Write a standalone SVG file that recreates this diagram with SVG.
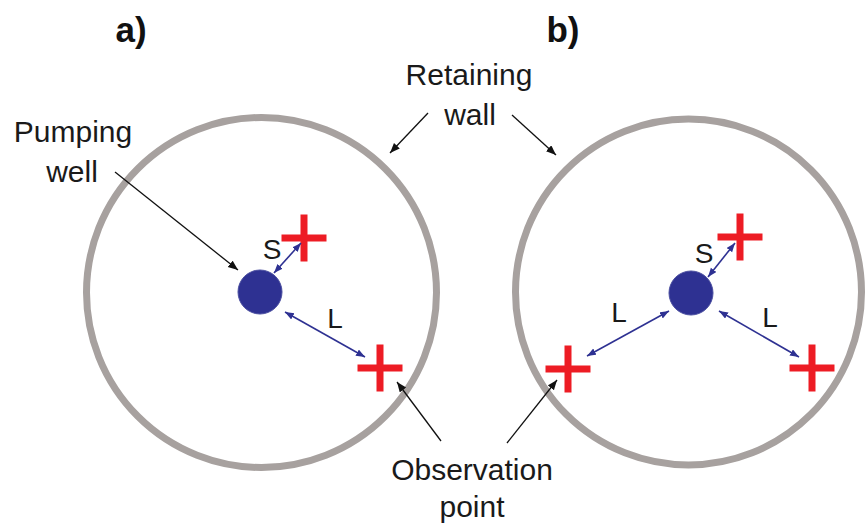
<svg xmlns="http://www.w3.org/2000/svg" width="866" height="527" viewBox="0 0 866 527">
  <defs>
    <marker id="ah" markerUnits="userSpaceOnUse" markerWidth="11" markerHeight="9" refX="10" refY="4" orient="auto">
      <path d="M0,0 L10,4 L0,8 z" fill="#111"/>
    </marker>
    <marker id="bh" markerUnits="userSpaceOnUse" markerWidth="10" markerHeight="8" refX="9" refY="3.5" orient="auto-start-reverse">
      <path d="M0,0 L9,3.5 L0,7 z" fill="#2e3192"/>
    </marker>
  </defs>
  <style>
    .wall { fill: none; stroke: #a7a19f; stroke-width: 7; }
    .well { fill: #2e3192; stroke: #4a4ea0; stroke-width: 1; }
    .plus { stroke: #ed1c24; stroke-width: 7; fill: none; }
    .lbl { font-family: "Liberation Sans", Arial, sans-serif; font-size: 30px; fill: #1a1a1a; text-anchor: middle; }
    .sym { font-family: "Liberation Sans", Arial, sans-serif; font-size: 28px; fill: #1a1a1a; text-anchor: middle; }
    .ttl { font-family: "Liberation Sans", Arial, sans-serif; font-size: 35px; font-weight: bold; fill: #111; text-anchor: middle; }
    .dist { stroke: #2e3192; stroke-width: 1.6; fill: none; marker-start: url(#bh); marker-end: url(#bh); }
    .ptr { stroke: #111; stroke-width: 1.3; fill: none; marker-end: url(#ah); }
  </style>
  <rect width="866" height="527" fill="#fff"/>

  <g id="title-a"><text class="ttl" x="131" y="42">a)</text></g>
  <g id="title-b"><text class="ttl" x="563" y="42">b)</text></g>

  <g id="wall-a"><circle class="wall" cx="261.5" cy="292.5" r="175"/></g>
  <g id="wall-b"><circle class="wall" cx="688.5" cy="292" r="173"/></g>

  <g id="well-a"><circle class="well" cx="260" cy="292" r="22"/></g>
  <g id="well-b"><circle class="well" cx="691" cy="293" r="22"/></g>

  <g id="obs-a-top"><path class="plus" d="M281.5,238 H326.5 M304,214.5 V261.5"/></g>
  <g id="obs-a-bottom"><path class="plus" d="M357.5,368 H402.5 M380,344.5 V391.5"/></g>
  <g id="obs-b-top"><path class="plus" d="M717.5,237 H762.5 M740,213.5 V260.5"/></g>
  <g id="obs-b-left"><path class="plus" d="M545.5,369 H590.5 M568,345.5 V392.5"/></g>
  <g id="obs-b-right"><path class="plus" d="M789.5,368 H834.5 M812,344.5 V391.5"/></g>

  <g id="label-pumping-well">
    <text class="lbl" x="73" y="142">Pumping</text>
    <text class="lbl" x="72" y="182">well</text>
  </g>
  <g id="label-retaining-wall">
    <text class="lbl" x="469" y="85">Retaining</text>
    <text class="lbl" x="470" y="125">wall</text>
  </g>
  <g id="label-observation-point">
    <text class="lbl" x="472" y="480">Observation</text>
    <text class="lbl" x="472" y="517">point</text>
  </g>

  <g id="connectors">
    <line class="dist" x1="274" y1="273" x2="301" y2="243"/>
    <line class="dist" x1="285" y1="312" x2="365" y2="357"/>
    <line class="dist" x1="708" y1="277" x2="735" y2="243"/>
    <line class="dist" x1="669" y1="311" x2="587" y2="356"/>
    <line class="dist" x1="719" y1="311" x2="799" y2="357"/>

    <line class="ptr" x1="115" y1="172" x2="238" y2="270"/>
    <line class="ptr" x1="428" y1="113" x2="390" y2="153"/>
    <line class="ptr" x1="512" y1="115" x2="556" y2="155"/>
    <line class="ptr" x1="441" y1="441" x2="397" y2="382"/>
    <line class="ptr" x1="507" y1="443" x2="557" y2="380"/>

    <text class="sym" x="272" y="259">S</text>
    <text class="sym" x="335" y="328">L</text>
    <text class="sym" x="704" y="263">S</text>
    <text class="sym" x="619" y="322">L</text>
    <text class="sym" x="770" y="327">L</text>
  </g>
</svg>
